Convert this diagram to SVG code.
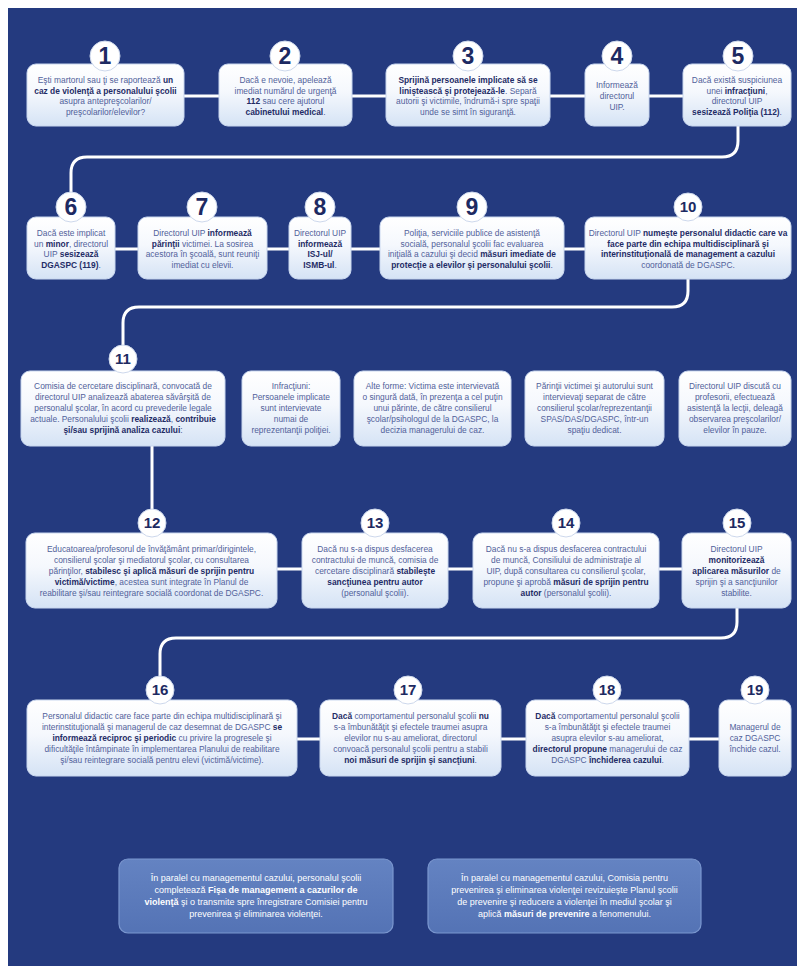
<svg xmlns="http://www.w3.org/2000/svg" width="805" height="974" viewBox="0 0 805 974">
<defs>
<linearGradient id="g" x1="0" y1="0" x2="0" y2="1">
<stop offset="0" stop-color="#ffffff"/>
<stop offset="0.45" stop-color="#f5f8fd"/>
<stop offset="1" stop-color="#d5e3f5"/>
</linearGradient>
<linearGradient id="gb" x1="0" y1="0" x2="0" y2="1">
<stop offset="0" stop-color="#6483c2"/>
<stop offset="1" stop-color="#5473b5"/>
</linearGradient>
</defs>
<style>
.box{fill:url(#g);stroke:#c9d7ef;stroke-width:1}
.pbox{fill:url(#gb);stroke:#7b97cf;stroke-width:1.2}
.cir{fill:#ffffff;stroke:#cdd8ec;stroke-width:1}
.c{fill:none;stroke:#ffffff;stroke-width:3;stroke-linecap:round}
.t{font-family:"Liberation Sans",Arial,sans-serif;font-size:8.4px;fill:#51619a;text-anchor:middle}
.w{font-family:"Liberation Sans",Arial,sans-serif;font-size:9px;fill:#ffffff;text-anchor:middle}
.b{font-weight:700;fill:#1f2c66}
.w .b{fill:#ffffff}
.n1{font-family:"Liberation Sans",Arial,sans-serif;font-size:23px;font-weight:700;fill:#1d2a62;text-anchor:middle}
.n2{font-family:"Liberation Sans",Arial,sans-serif;font-size:15px;font-weight:700;fill:#1d2a62;text-anchor:middle}
</style>
<rect x="8" y="8" width="789" height="958" fill="#243a7f"/>
<g id="connectors">
<path class="c" d="M184 96H219M352 96H386M550 96H585M649 96H683"/>
<path class="c" d="M738 126V141Q738 157 722 157H87Q71 157 71 173V192"/>
<path class="c" d="M115 249H138M267 249H289M351 249H380M564 249H585"/>
<path class="c" d="M688 279V291Q688 307 672 307H139Q123 307 123 323V345"/>
<path class="c" d="M152 446V509"/>
<path class="c" d="M277 569H302M448 569H473M659 569H682"/>
<path class="c" d="M737 608V622Q737 638 721 638H176Q160 638 160 654V676"/>
<path class="c" d="M297 739H320M501 739H526M689 739H719"/>
</g>
<g id="node1">
<rect class="box" x="27" y="64" width="157" height="62" rx="9"/>
<circle class="cir" cx="105" cy="56" r="15"/><text class="n1" x="105" y="64.2">1</text>
<text class="t" x="105.5" y="82.8">Eşti martorul sau ţi se raportează <tspan class="b">un</tspan></text>
<text class="t" x="105.5" y="93.6"><tspan class="b">caz de violenţă a personalului şcolii</tspan></text>
<text class="t" x="105.5" y="104.4">asupra antepreşcolarilor/</text>
<text class="t" x="105.5" y="115.2">preşcolarilor/elevilor?</text>
</g>
<g id="node2">
<rect class="box" x="219" y="64" width="133" height="62" rx="9"/>
<circle class="cir" cx="285" cy="56" r="15"/><text class="n1" x="285" y="64.2">2</text>
<text class="t" x="285.5" y="82.8">Dacă e nevoie, apelează</text>
<text class="t" x="285.5" y="93.6">imediat numărul de urgenţă</text>
<text class="t" x="285.5" y="104.4"><tspan class="b">112</tspan> sau cere ajutorul</text>
<text class="t" x="285.5" y="115.2"><tspan class="b">cabinetului medical</tspan>.</text>
</g>
<g id="node3">
<rect class="box" x="386" y="64" width="164" height="62" rx="9"/>
<circle class="cir" cx="468" cy="56" r="15"/><text class="n1" x="468" y="64.2">3</text>
<text class="t" x="468" y="82.8"><tspan class="b">Sprijină persoanele implicate  să se</tspan></text>
<text class="t" x="468" y="93.6"><tspan class="b">liniştească şi protejează-le</tspan>. Separă</text>
<text class="t" x="468" y="104.4">autorii şi victimile, îndrumă-i spre spaţii</text>
<text class="t" x="468" y="115.2">unde se simt în siguranţă.</text>
</g>
<g id="node4">
<rect class="box" x="585" y="64" width="64" height="62" rx="9"/>
<circle class="cir" cx="617" cy="56" r="15"/><text class="n1" x="617" y="64.2">4</text>
<text class="t" x="617" y="88.2">Informează</text>
<text class="t" x="617" y="99">directorul</text>
<text class="t" x="617" y="109.8">UIP.</text>
</g>
<g id="node5">
<rect class="box" x="683" y="64" width="108" height="62" rx="9"/>
<circle class="cir" cx="738" cy="56" r="15"/><text class="n1" x="738" y="64.2">5</text>
<text class="t" x="737" y="82.8">Dacă există suspiciunea</text>
<text class="t" x="737" y="93.6">unei <tspan class="b">infracţiuni</tspan>,</text>
<text class="t" x="737" y="104.4">directorul UIP</text>
<text class="t" x="737" y="115.2"><tspan class="b">sesizează Poliţia (112)</tspan>.</text>
</g>
<g id="node6">
<rect class="box" x="27" y="217" width="88" height="62" rx="9"/>
<circle class="cir" cx="71" cy="207" r="15"/><text class="n1" x="71" y="215.2">6</text>
<text class="t" x="71" y="235.8">Dacă este implicat</text>
<text class="t" x="71" y="246.6">un <tspan class="b">minor</tspan>, directorul</text>
<text class="t" x="71" y="257.4">UIP <tspan class="b">sesizează</tspan></text>
<text class="t" x="71" y="268.2"><tspan class="b">DGASPC (119)</tspan>.</text>
</g>
<g id="node7">
<rect class="box" x="138" y="217" width="129" height="62" rx="9"/>
<circle class="cir" cx="202" cy="207" r="15"/><text class="n1" x="202" y="215.2">7</text>
<text class="t" x="202.5" y="235.8">Directorul UIP <tspan class="b">informează</tspan></text>
<text class="t" x="202.5" y="246.6"><tspan class="b">părinţii</tspan> victimei. La sosirea</text>
<text class="t" x="202.5" y="257.4">acestora în şcoală, sunt reuniţi</text>
<text class="t" x="202.5" y="268.2">imediat cu elevii.</text>
</g>
<g id="node8">
<rect class="box" x="289" y="217" width="62" height="62" rx="9"/>
<circle class="cir" cx="320" cy="207" r="15"/><text class="n1" x="320" y="215.2">8</text>
<text class="t" x="320" y="235.8">Directorul UIP</text>
<text class="t" x="320" y="246.6"><tspan class="b">informează</tspan></text>
<text class="t" x="320" y="257.4"><tspan class="b">ISJ-ul/</tspan></text>
<text class="t" x="320" y="268.2"><tspan class="b">ISMB-ul</tspan>.</text>
</g>
<g id="node9">
<rect class="box" x="380" y="217" width="184" height="62" rx="9"/>
<circle class="cir" cx="472" cy="207" r="15"/><text class="n1" x="472" y="215.2">9</text>
<text class="t" x="472" y="235.8">Poliţia, serviciile publice de asistenţă</text>
<text class="t" x="472" y="246.6">socială, personalul şcolii fac evaluarea</text>
<text class="t" x="472" y="257.4">iniţială a cazului şi decid <tspan class="b">măsuri imediate de</tspan></text>
<text class="t" x="472" y="268.2"><tspan class="b">protecţie a elevilor şi personalului şcolii</tspan>.</text>
</g>
<g id="node10">
<rect class="box" x="585" y="217" width="206" height="62" rx="9"/>
<circle class="cir" cx="688" cy="207" r="14"/><text class="n2" x="688" y="212.4">10</text>
<text class="t" x="688" y="235.8">Directorul UIP <tspan class="b">numeşte personalul didactic care va</tspan></text>
<text class="t" x="688" y="246.6"><tspan class="b">face parte din echipa multidisciplinară şi</tspan></text>
<text class="t" x="688" y="257.4"><tspan class="b">interinstituţională de management a cazului</tspan></text>
<text class="t" x="688" y="268.2">coordonată de DGASPC.</text>
</g>
<g id="node11">
<rect class="box" x="21" y="371" width="204" height="75" rx="9"/>
<circle class="cir" cx="123" cy="359" r="14"/><text class="n2" x="123" y="364.4">11</text>
<text class="t" x="123" y="389.4">Comisia de cercetare disciplinară, convocată de</text>
<text class="t" x="123" y="400.2">directorul UIP analizează abaterea săvârşită de</text>
<text class="t" x="123" y="411">personalul şcolar, în acord cu prevederile legale</text>
<text class="t" x="123" y="421.8">actuale. Personalului şcolii <tspan class="b">realizează</tspan>, <tspan class="b">contribuie</tspan></text>
<text class="t" x="123" y="432.6"><tspan class="b">şi/sau sprijină analiza cazului</tspan>:</text>
</g>
<g id="node11b">
<rect class="box" x="242" y="371" width="98" height="75" rx="9"/>
<text class="t" x="291" y="389.4">Infracţiuni:</text>
<text class="t" x="291" y="400.2">Persoanele implicate</text>
<text class="t" x="291" y="411">sunt intervievate</text>
<text class="t" x="291" y="421.8">numai de</text>
<text class="t" x="291" y="432.6">reprezentanţii poliţiei.</text>
</g>
<g id="node11c">
<rect class="box" x="354" y="371" width="157" height="75" rx="9"/>
<text class="t" x="432.5" y="389.4">Alte forme: Victima este intervievată</text>
<text class="t" x="432.5" y="400.2">o singură dată, în prezenţa a cel puţin</text>
<text class="t" x="432.5" y="411">unui părinte, de către consilierul</text>
<text class="t" x="432.5" y="421.8">şcolar/psihologul de la DGASPC, la</text>
<text class="t" x="432.5" y="432.6">decizia managerului de caz.</text>
</g>
<g id="node11d">
<rect class="box" x="525" y="371" width="139" height="75" rx="9"/>
<text class="t" x="594.5" y="389.4">Părinţii victimei şi autorului sunt</text>
<text class="t" x="594.5" y="400.2">intervievaţi separat de către</text>
<text class="t" x="594.5" y="411">consilierul şcolar/reprezentanţii</text>
<text class="t" x="594.5" y="421.8">SPAS/DAS/DGASPC, într-un</text>
<text class="t" x="594.5" y="432.6">spaţiu dedicat.</text>
</g>
<g id="node11e">
<rect class="box" x="679" y="371" width="112" height="75" rx="9"/>
<text class="t" x="735" y="389.4">Directorul UIP discută cu</text>
<text class="t" x="735" y="400.2">profesorii, efectuează</text>
<text class="t" x="735" y="411">asistenţă la lecţii, deleagă</text>
<text class="t" x="735" y="421.8">observarea preşcolarilor/</text>
<text class="t" x="735" y="432.6">elevilor în pauze.</text>
</g>
<g id="node12">
<rect class="box" x="26" y="533" width="251" height="75" rx="9"/>
<circle class="cir" cx="152" cy="523" r="14"/><text class="n2" x="152" y="528.4">12</text>
<text class="t" x="151.5" y="552.4">Educatoarea/profesorul de învăţământ primar/dirigintele,</text>
<text class="t" x="151.5" y="563.2">consilierul şcolar şi mediatorul şcolar, cu consultarea</text>
<text class="t" x="151.5" y="574">părinţilor, <tspan class="b">stabilesc şi aplică măsuri de sprijin pentru</tspan></text>
<text class="t" x="151.5" y="584.8"><tspan class="b">victimă/victime</tspan>, acestea sunt integrate în Planul de</text>
<text class="t" x="151.5" y="595.6">reabilitare şi/sau reintegrare socială coordonat de DGASPC.</text>
</g>
<g id="node13">
<rect class="box" x="302" y="533" width="146" height="75" rx="9"/>
<circle class="cir" cx="375" cy="523" r="14"/><text class="n2" x="375" y="528.4">13</text>
<text class="t" x="375" y="552.4">Dacă nu s-a dispus desfacerea</text>
<text class="t" x="375" y="563.2">contractului de muncă, comisia de</text>
<text class="t" x="375" y="574">cercetare disciplinară <tspan class="b">stabileşte</tspan></text>
<text class="t" x="375" y="584.8"><tspan class="b">sancţiunea pentru autor</tspan></text>
<text class="t" x="375" y="595.6">(personalul şcolii).</text>
</g>
<g id="node14">
<rect class="box" x="473" y="533" width="186" height="75" rx="9"/>
<circle class="cir" cx="566" cy="523" r="14"/><text class="n2" x="566" y="528.4">14</text>
<text class="t" x="566" y="552.4">Dacă nu s-a dispus desfacerea contractului</text>
<text class="t" x="566" y="563.2">de muncă, Consiliului de administraţie al</text>
<text class="t" x="566" y="574">UIP, după consultarea cu consilierul şcolar,</text>
<text class="t" x="566" y="584.8">propune şi aprobă <tspan class="b">măsuri de sprijin pentru</tspan></text>
<text class="t" x="566" y="595.6"><tspan class="b">autor</tspan> (personalul şcolii).</text>
</g>
<g id="node15">
<rect class="box" x="682" y="533" width="109" height="75" rx="9"/>
<circle class="cir" cx="737" cy="523" r="14"/><text class="n2" x="737" y="528.4">15</text>
<text class="t" x="736.5" y="552.4">Directorul UIP</text>
<text class="t" x="736.5" y="563.2"><tspan class="b">monitorizează</tspan></text>
<text class="t" x="736.5" y="574"><tspan class="b">aplicarea măsurilor</tspan> de</text>
<text class="t" x="736.5" y="584.8">sprijin şi a sancţiunilor</text>
<text class="t" x="736.5" y="595.6">stabilite.</text>
</g>
<g id="node16">
<rect class="box" x="27" y="700" width="270" height="76" rx="9"/>
<circle class="cir" cx="160" cy="690" r="14"/><text class="n2" x="160" y="695.4">16</text>
<text class="t" x="162" y="719.4">Personalul didactic care face parte din echipa multidisciplinară şi</text>
<text class="t" x="162" y="730.2">interinstituţională şi managerul de caz desemnat de DGASPC <tspan class="b">se</tspan></text>
<text class="t" x="162" y="741"><tspan class="b">informează reciproc şi periodic</tspan> cu privire la progresele şi</text>
<text class="t" x="162" y="751.8">dificultăţile întâmpinate în implementarea Planului de reabilitare</text>
<text class="t" x="162" y="762.6">şi/sau reintegrare socială pentru elevi (victimă/victime).</text>
</g>
<g id="node17">
<rect class="box" x="320" y="700" width="181" height="76" rx="9"/>
<circle class="cir" cx="408" cy="690" r="14"/><text class="n2" x="408" y="695.4">17</text>
<text class="t" x="410.5" y="719.4"><tspan class="b">Dacă</tspan> comportamentul personalul şcolii <tspan class="b">nu</tspan></text>
<text class="t" x="410.5" y="730.2">s-a îmbunătăţit şi efectele traumei asupra</text>
<text class="t" x="410.5" y="741">elevilor nu s-au ameliorat, directorul</text>
<text class="t" x="410.5" y="751.8">convoacă personalul şcolii pentru a stabili</text>
<text class="t" x="410.5" y="762.6"><tspan class="b">noi măsuri de sprijin şi sancţiuni</tspan>.</text>
</g>
<g id="node18">
<rect class="box" x="526" y="700" width="163" height="76" rx="9"/>
<circle class="cir" cx="607" cy="690" r="14"/><text class="n2" x="607" y="695.4">18</text>
<text class="t" x="607.5" y="719.4"><tspan class="b">Dacă</tspan> comportamentul personalul şcolii</text>
<text class="t" x="607.5" y="730.2">s-a îmbunătăţit şi efectele traumei</text>
<text class="t" x="607.5" y="741">asupra elevilor s-au ameliorat,</text>
<text class="t" x="607.5" y="751.8"><tspan class="b">directorul propune</tspan> managerului de caz</text>
<text class="t" x="607.5" y="762.6">DGASPC <tspan class="b">închiderea cazului</tspan>.</text>
</g>
<g id="node19">
<rect class="box" x="719" y="700" width="72" height="76" rx="9"/>
<circle class="cir" cx="755" cy="690" r="14"/><text class="n2" x="755" y="695.4">19</text>
<text class="t" x="755" y="730.2">Managerul de</text>
<text class="t" x="755" y="741">caz DGASPC</text>
<text class="t" x="755" y="751.8">închide cazul.</text>
</g>
<g id="note1">
<rect class="pbox" x="119" y="859" width="274" height="74" rx="9"/>
<text class="w" x="256" y="881.2">În paralel cu managementul cazului, personalul şcolii</text>
<text class="w" x="256" y="893.2">completează <tspan class="b">Fişa de management a cazurilor de</tspan></text>
<text class="w" x="256" y="905.2"><tspan class="b">violenţă</tspan> şi o transmite spre înregistrare Comisiei pentru</text>
<text class="w" x="256" y="917.2">prevenirea şi eliminarea violenţei.</text>
</g>
<g id="note2">
<rect class="pbox" x="428" y="859" width="273" height="74" rx="9"/>
<text class="w" x="564.5" y="881.2">În paralel cu managementul cazului, Comisia pentru</text>
<text class="w" x="564.5" y="893.2">prevenirea şi eliminarea violenţei revizuieşte Planul şcolii</text>
<text class="w" x="564.5" y="905.2">de prevenire şi reducere a violenţei în mediul şcolar şi</text>
<text class="w" x="564.5" y="917.2">aplică <tspan class="b">măsuri de prevenire</tspan> a fenomenului.</text>
</g>
</svg>
